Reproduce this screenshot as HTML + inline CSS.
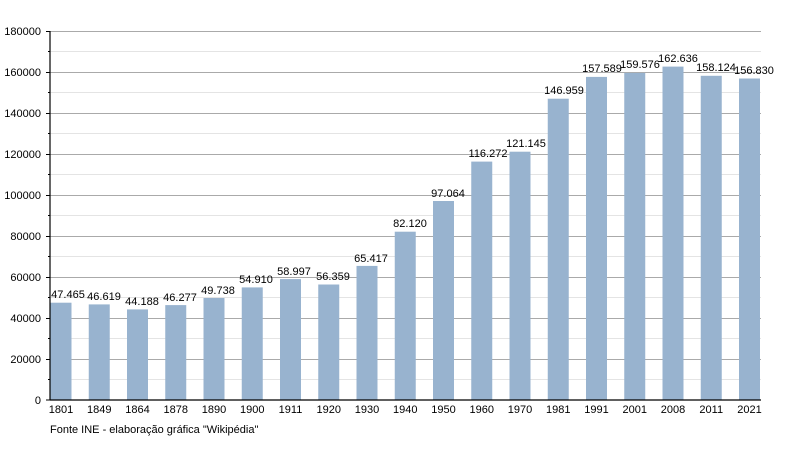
<!DOCTYPE html>
<html><head><meta charset="utf-8"><style>
body{margin:0;background:#fff}
svg{display:block;font-family:"Liberation Sans",sans-serif}
</style></head><body>
<svg width="800" height="450" viewBox="0 0 800 450">
<g stroke="#e4e4e4" stroke-width="1">
<line x1="50" x2="761" y1="51.5" y2="51.5"/><line x1="50" x2="761" y1="92.5" y2="92.5"/><line x1="50" x2="761" y1="133.5" y2="133.5"/><line x1="50" x2="761" y1="174.5" y2="174.5"/><line x1="50" x2="761" y1="215.5" y2="215.5"/><line x1="50" x2="761" y1="256.5" y2="256.5"/><line x1="50" x2="761" y1="297.5" y2="297.5"/><line x1="50" x2="761" y1="338.5" y2="338.5"/><line x1="50" x2="761" y1="379.5" y2="379.5"/>
</g>
<g stroke="#aaaaaa" stroke-width="1">
<line x1="50" x2="761" y1="31.5" y2="31.5"/><line x1="50" x2="761" y1="72.5" y2="72.5"/><line x1="50" x2="761" y1="113.5" y2="113.5"/><line x1="50" x2="761" y1="154.5" y2="154.5"/><line x1="50" x2="761" y1="195.5" y2="195.5"/><line x1="50" x2="761" y1="236.5" y2="236.5"/><line x1="50" x2="761" y1="277.5" y2="277.5"/><line x1="50" x2="761" y1="318.5" y2="318.5"/><line x1="50" x2="761" y1="359.5" y2="359.5"/>
</g>
<g fill="#98b3cf">
<rect x="50.5" y="302.7" width="21" height="97.3"/>
<rect x="88.75" y="304.4" width="21" height="95.6"/>
<rect x="127" y="309.4" width="21" height="90.6"/>
<rect x="165.25" y="305.1" width="21" height="94.9"/>
<rect x="203.5" y="298" width="21" height="102"/>
<rect x="241.75" y="287.4" width="21" height="112.6"/>
<rect x="280" y="279.1" width="21" height="120.9"/>
<rect x="318.25" y="284.5" width="21" height="115.5"/>
<rect x="356.5" y="265.9" width="21" height="134.1"/>
<rect x="394.75" y="231.7" width="21" height="168.3"/>
<rect x="433" y="201" width="21" height="199"/>
<rect x="471.25" y="161.6" width="21" height="238.4"/>
<rect x="509.5" y="151.7" width="21" height="248.3"/>
<rect x="547.75" y="98.7" width="21" height="301.3"/>
<rect x="586" y="76.9" width="21" height="323.1"/>
<rect x="624.25" y="72.9" width="21" height="327.1"/>
<rect x="662.5" y="66.6" width="21" height="333.4"/>
<rect x="700.75" y="75.8" width="21" height="324.2"/>
<rect x="739" y="78.5" width="21" height="321.5"/>
</g>
<g stroke="#000" stroke-width="1.2">
<line x1="50" x2="50" y1="31" y2="400"/>
<line x1="50" x2="761" y1="400" y2="400"/>
</g>
<g stroke="#000" stroke-width="1">
<line x1="46" x2="50" y1="31.5" y2="31.5"/><line x1="46" x2="50" y1="72.5" y2="72.5"/><line x1="46" x2="50" y1="113.5" y2="113.5"/><line x1="46" x2="50" y1="154.5" y2="154.5"/><line x1="46" x2="50" y1="195.5" y2="195.5"/><line x1="46" x2="50" y1="236.5" y2="236.5"/><line x1="46" x2="50" y1="277.5" y2="277.5"/><line x1="46" x2="50" y1="318.5" y2="318.5"/><line x1="46" x2="50" y1="359.5" y2="359.5"/><line x1="46" x2="50" y1="400" y2="400"/>
<line x1="48" x2="50" y1="51.5" y2="51.5"/><line x1="48" x2="50" y1="92.5" y2="92.5"/><line x1="48" x2="50" y1="133.5" y2="133.5"/><line x1="48" x2="50" y1="174.5" y2="174.5"/><line x1="48" x2="50" y1="215.5" y2="215.5"/><line x1="48" x2="50" y1="256.5" y2="256.5"/><line x1="48" x2="50" y1="297.5" y2="297.5"/><line x1="48" x2="50" y1="338.5" y2="338.5"/><line x1="48" x2="50" y1="379.5" y2="379.5"/>
</g>
<g font-size="11" fill="#000" text-anchor="end">
<text x="41" y="35">180000</text><text x="41" y="76">160000</text><text x="41" y="117">140000</text><text x="41" y="158">120000</text><text x="41" y="199">100000</text><text x="41" y="240">80000</text><text x="41" y="281">60000</text><text x="41" y="322">40000</text><text x="41" y="363">20000</text><text x="41" y="404">0</text>
</g>
<g font-size="11" fill="#000" text-anchor="middle">
<text x="61" y="413">1801</text><text x="99.25" y="413">1849</text><text x="137.5" y="413">1864</text><text x="175.75" y="413">1878</text><text x="214" y="413">1890</text><text x="252.25" y="413">1900</text><text x="290.5" y="413">1911</text><text x="328.75" y="413">1920</text><text x="367" y="413">1930</text><text x="405.25" y="413">1940</text><text x="443.5" y="413">1950</text><text x="481.75" y="413">1960</text><text x="520" y="413">1970</text><text x="558.25" y="413">1981</text><text x="596.5" y="413">1991</text><text x="634.75" y="413">2001</text><text x="673" y="413">2008</text><text x="711.25" y="413">2011</text><text x="749.5" y="413">2021</text>
</g>
<g font-size="11" fill="#000" text-anchor="middle">
<text x="68" y="298">47.465</text><text x="104" y="300">46.619</text><text x="142" y="305">44.188</text><text x="180" y="301">46.277</text><text x="218" y="294">49.738</text><text x="256" y="283">54.910</text><text x="294" y="275">58.997</text><text x="333" y="280">56.359</text><text x="371" y="262">65.417</text><text x="410" y="227">82.120</text><text x="448" y="197">97.064</text><text x="488" y="157">116.272</text><text x="526" y="147">121.145</text><text x="564" y="94">146.959</text><text x="602" y="72">157.589</text><text x="640" y="68">159.576</text><text x="678" y="62">162.636</text><text x="716" y="71">158.124</text><text x="754" y="74">156.830</text>
</g>
<text x="50" y="433" font-size="11" fill="#000">Fonte INE - elaboração gráfica "Wikipédia"</text>
</svg>
</body></html>
